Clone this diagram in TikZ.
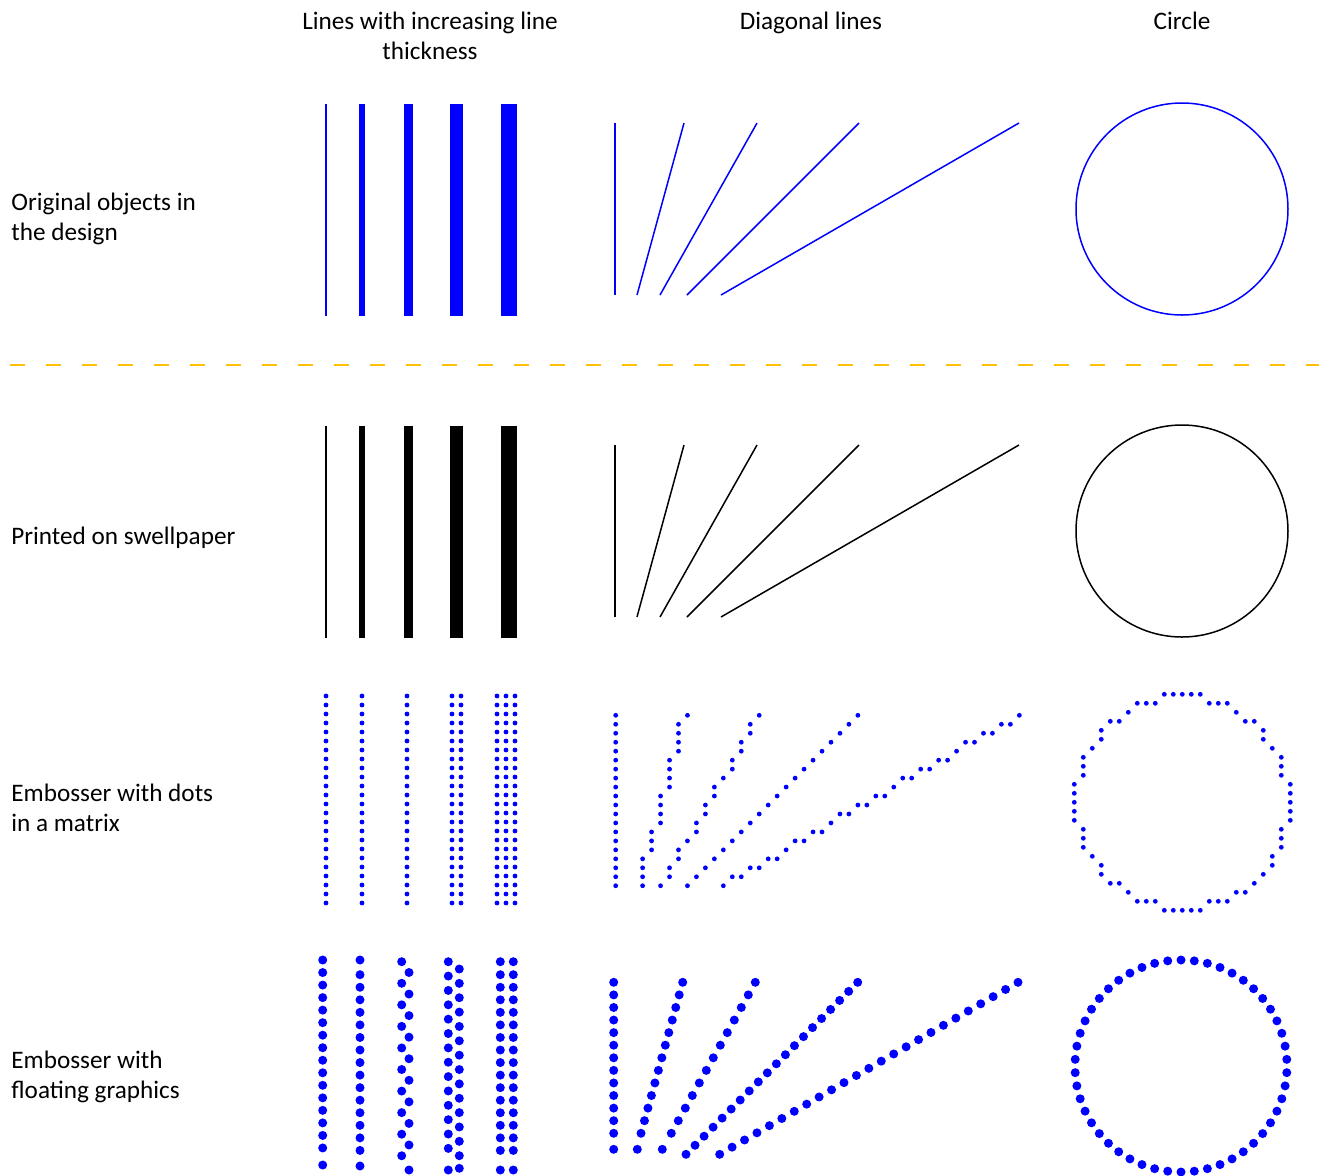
\documentclass[tikz,border=0pt]{standalone}
\usepackage{fontspec}
\setmainfont{Carlito}
\usepackage{tikz}
\usetikzlibrary{positioning}
\definecolor{swink}{HTML}{000000}
\definecolor{swblue}{HTML}{0000FF}
\definecolor{swgold}{HTML}{FFC000}
\tikzset{
  swhead/.style ={font=\fontsize{12.6}{15}\selectfont, text=swink, align=center,
                  inner sep=0pt, anchor=base},
  swlbl/.style  ={font=\fontsize{12.6}{15}\selectfont, text=swink, align=left,
                  inner sep=0pt, anchor=base west},
  swsep/.style  ={draw=swgold, line width=1pt, dash pattern=on 7.65pt off 10.35pt},
  swthin/.style ={line width=0.75pt},
  swdot/.style  ={fill=swblue, radius=2.4},
  swbead/.style ={fill=swblue, radius=4.5},
}

\begin{document}
\begin{tikzpicture}[x=0.5pt, y=-0.5pt]
  \useasboundingbox (0,0) rectangle (1319,1175);

  % column and row titles (base = last line)
  \node[swhead] (hthick) at (430,59.3) {Lines with increasing line\\thickness};
  \node[swhead] (hdiag) at (811,29.3) {Diagonal lines};
  \node[swhead] (hcircle) at (1182,29.3) {Circle};
  \node[swlbl] (lorig) at (11,240) {Original objects in\\the design};
  \node[swlbl] (lprint) at (11,544) {Printed on swellpaper};
  \node[swlbl] (lmatrix) at (11,831) {Embosser with dots\\in a matrix};
  \node[swlbl] (lfloat) at (11,1098) {Embosser with\\floating graphics};

  \draw[swsep] (10,365) -- (1319,365);

  % original (blue) and printed (black)
  \foreach \ink/\dy in {swblue/0, swink/322} {
    \foreach \x/\w in {325.7/1.6, 362/5.7, 408.3/8.7, 456.7/13, 509.3/16.3}
      \fill[fill=\ink] ({\x-\w/2},{103.5+\dy}) rectangle ({\x+\w/2},{315.5+\dy});
    \draw[draw=\ink, swthin] (615,{123+\dy}) -- (615,{295+\dy});
    \foreach \xa/\xb in {637/684, 660/757, 687/859, 721/1019}
      \draw[draw=\ink, swthin] (\xa,{295+\dy}) -- (\xb,{123+\dy});
    \draw[draw=\ink, swthin] (1182,{209+\dy}) circle[radius=106];
  }

  % embosser, dot matrix
  \foreach \c in {0,4,9,14,15,19,20,21}
    \foreach \r in {0,...,23}
      \fill[swdot] ({326+9*\c},{696+9*\r}) circle;
  \foreach \r in {0,...,19}
    \fill[swdot] (615.7,{715.3+8.97*\r}) circle;
  \foreach \c [count=\r from 0] in {8,7,7,7,7,6,6,6,6,5,5,5,5,4,4,4,3,3,3,3}
    \fill[swdot] ({615.7+8.97*\c},{715.3+8.97*\r}) circle;
  \foreach \c [count=\r from 0] in {16,15,15,14,14,13,13,12,11,11,10,10,9,9,8,7,7,6,6,5}
    \fill[swdot] ({615.7+8.97*\c},{715.3+8.97*\r}) circle;
  \foreach \r in {0,...,19}
    \fill[swdot] ({615.7+8.97*(27-\r)},{715.3+8.97*\r}) circle;
  \foreach \r [count=\c from 12] in {19,18,18,17,17,16,16,15,14,14,13,13,12,11,11,10,10,
                                     9,9,8,7,7,6,6,5,5,4,3,3,2,2,1,1,0}
    \fill[swdot] ({615.7+8.97*\c},{715.3+8.97*\r}) circle;
  \foreach \r/\cs in {0/{10,11,12,13,14}, 1/{7,8,9,15,16,17}, 2/{6,18}, 3/{4,5,19,20},
                      4/{3,21}, 5/{3,21}, 6/{2,22}, 7/{1,23}, 8/{1,23}, 9/{1,23},
                      10/{0,24}, 11/{0,24}, 12/{0,24}, 13/{0,24}, 14/{0,24},
                      15/{1,23}, 16/{1,23}, 17/{1,23}, 18/{2,22}, 19/{3,22}, 20/{3,21},
                      21/{4,5,20}, 22/{6,18,19}, 23/{7,8,9,15,16,17}, 24/{10,11,12,13,14}}
    \foreach \c in \cs
      \fill[swdot] ({1074.3+9*\c},{694.3+9*\r}) circle;

  % embosser, floating graphics
  \foreach \k in {0,...,15}
    \fill[swbead] (322.7,{960+12.53*\k}) circle;
  \fill[swbead] (322.7,1165) circle;
  \fill[swbead] (360,960) circle;
  \foreach \k in {0,...,14}
    \fill[swbead] (360,{974.7+12.55*\k}) circle;
  \fill[swbead] (360,1166) circle;
  \foreach \k in {0,...,18}
    \fill[swbead] ({401.7+7.3*mod(\k,2)},{961.7+10.78*\k}) circle;
  \fill[swbead] (409,1170) circle;
  \foreach \k in {0,...,13} {
    \fill[swbead] (448.3,{961.7+14.36*\k}) circle;
    \fill[swbead] (459.3,{969+14.36*\k}) circle;
  }
  \fill[swbead] (448.3,1170) circle;
  \fill[swbead] (459.3,1168.3) circle;
  \foreach \x in {500.3,513.3} {
    \fill[swbead] (\x,961.7) circle;
    \foreach \k in {0,...,14}
      \fill[swbead] (\x,{974.7+12.55*\k}) circle;
    \fill[swbead] (\x,1170) circle;
  }
  \foreach \xa/\dx in {613.7/0, 682.7/-3.475, 755.3/-7.0} {
    \foreach \k in {0,...,12}
      \fill[swbead] ({\xa+\dx*\k},{982.3+12.58*\k}) circle;
  }
  \fill[swbead] (613.7,1149.3) circle;
  \fill[swbead] (637.3,1149.3) circle;
  \fill[swbead] (662.3,1149.3) circle;
  \foreach \k in {0,...,19}
    \fill[swbead] ({857.7-9.037*\k},{982.3+9.053*\k}) circle;
  \foreach \k in {0,...,24}
    \fill[swbead] ({1018-12.43*\k},{982.3+7.167*\k}) circle;
  \foreach \k in {0,...,49}
    \fill[swbead] ({1181+106*cos(3.6+7.2*\k)},{1066+106*sin(3.6+7.2*\k)}) circle;
\end{tikzpicture}
\end{document}
